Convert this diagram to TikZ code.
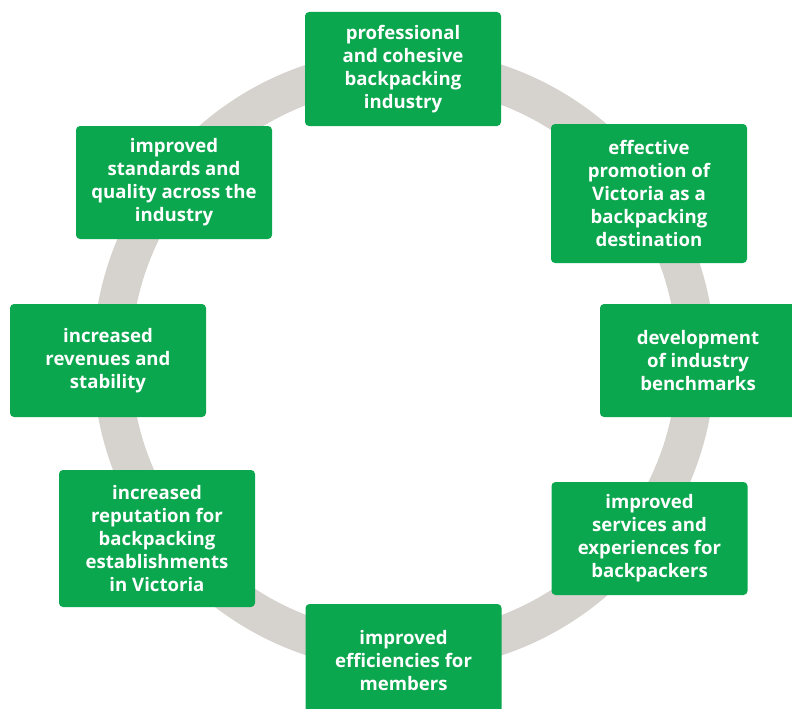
\documentclass[tikz,border=0pt]{standalone}
\usepackage{fontspec}
\setmainfont{Open Sans}
\definecolor{boxgreen}{RGB}{11,167,78}
\definecolor{ringgray}{RGB}{214,210,205}
\tikzset{
  goal/.style={fill=boxgreen, rounded corners=4pt, text=white, align=center,
    minimum width=196pt, inner sep=0pt,
    font=\fontsize{18.6}{23}\selectfont\bfseries},
  ring/.style={draw=ringgray, line width=38pt}
}
\begin{document}
\begin{tikzpicture}[x=1pt,y=-1pt]
\useasboundingbox (0,0) rectangle (792,709);
\coordinate (c) at (404,360);
\draw[ring] (c) circle (292pt);
\node[goal, minimum height=114pt] (n1) at (403,69) {professional\\and cohesive\\backpacking\\industry};
\node[goal, minimum height=139pt] (n2) at (649,193.5) {effective\\promotion of\\Victoria as a\\backpacking\\destination};
\node[goal, minimum height=113pt] (n3) at (698,360.5) {development\\of industry\\benchmarks};
\node[goal, minimum height=113pt] (n4) at (649.5,538.5) {improved\\services and\\experiences for\\backpackers};
\node[goal, minimum height=113pt] (n5) at (403.5,660.5) {improved\\efficiencies for\\members};
\node[goal, minimum height=137pt] (n6) at (157,538.5) {increased\\reputation for\\backpacking\\establishments\\in Victoria};
\node[goal, minimum height=113pt] (n7) at (108,360.5) {increased\\revenues and\\stability};
\node[goal, minimum height=113pt] (n8) at (174,182.5) {improved\\standards and\\quality across the\\industry};
\end{tikzpicture}
\end{document}
